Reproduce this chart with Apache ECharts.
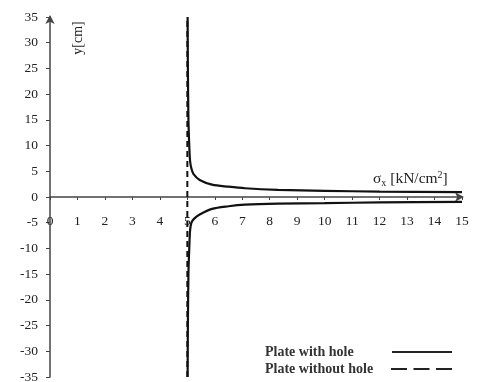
<!DOCTYPE html>
<html>
<head>
<meta charset="utf-8">
<script src="https://cdn.jsdelivr.net/npm/echarts@6/dist/echarts.min.js"></script>
<style>
  html, body { margin: 0; padding: 0; background: #fff; }
  #chart { width: 483px; height: 382px; }
</style>
</head>
<body>
<div id="chart"></div>
<script>
// Stress sigma_x along the y-section through the plate (kN/cm2 vs cm)
var sigmaHoleUpper = [5.01, 5.02, 5.04, 5.07, 5.1, 5.15, 5.22, 5.45, 5.9, 6.5, 7.1, 8.3, 10, 12, 15];
var yHoleUpper     = [35, 25, 15, 10, 7, 5.5, 4.5, 3.3, 2.4, 2.0, 1.7, 1.4, 1.2, 1.05, 0.95];
var sigmaHoleLower = [5.01, 5.02, 5.04, 5.07, 5.1, 5.15, 5.25, 5.45, 5.9, 6.5, 7.1, 8.3, 10, 12, 15];
var yHoleLower     = [-35, -25, -15, -10, -6.5, -5, -4.2, -3.4, -2.3, -1.8, -1.5, -1.3, -1.2, -1.05, -0.95];
var sigmaPlain = [5, 5];
var yPlain     = [-35, 35];

var xTicks = { min: 0, max: 15, step: 1 };
var yTicks = { min: -35, max: 35, step: 5 };

var legendNames = ['Plate with hole', 'Plate without hole'];

function pairs(xs, ys) {
  return xs.map(function (x, i) { return [x, ys[i]]; });
}

var SERIF = '"Liberation Serif", "DejaVu Serif", serif';
var INK = '#222';
var AXIS = '#444';

var GRID = { left: 50, right: 21, top: 17, bottom: 5 };
var CHART_H = 382;
// the sigma axis runs through y = 0, which sits halfway up the plot area
var zeroOffset = -(CHART_H - GRID.top - GRID.bottom) / 2;

var chart = echarts.init(document.getElementById('chart'), null, { renderer: 'canvas' });

chart.setOption({
  animation: false,
  backgroundColor: '#fff',
  grid: { left: GRID.left, right: GRID.right, top: GRID.top, bottom: GRID.bottom,
          containLabel: false, outerBoundsMode: 'none' },
  xAxis: {
    type: 'value',
    position: 'bottom',
    offset: zeroOffset,
    min: xTicks.min, max: xTicks.max, interval: xTicks.step,
    axisLine: {
      onZero: false,
      symbol: ['none', 'arrow'], symbolSize: [7, 9], symbolOffset: [0, 2],
      lineStyle: { color: AXIS, width: 1.5 }
    },
    axisTick: { show: true, inside: false, length: 3, lineStyle: { color: AXIS } },
    axisLabel: { color: INK, fontFamily: SERIF, fontSize: 13.5, margin: 17 },
    splitLine: { show: false }
  },
  yAxis: {
    type: 'value',
    min: yTicks.min, max: yTicks.max, interval: yTicks.step,
    axisLine: {
      show: true, onZero: false,
      symbol: ['none', 'arrow'], symbolSize: [7, 9], symbolOffset: [0, 2],
      lineStyle: { color: AXIS, width: 1.5 }
    },
    axisTick: { show: true, length: 4, lineStyle: { color: AXIS } },
    axisLabel: { color: INK, fontFamily: SERIF, fontSize: 13.5, margin: 12 },
    splitLine: { show: false }
  },
  series: [
    {
      name: legendNames[1], type: 'line', data: pairs(sigmaPlain, yPlain),
      showSymbol: false, lineStyle: { color: '#111', width: 2, type: [6, 4] }, z: 2
    },
    {
      name: legendNames[0], type: 'line', data: pairs(sigmaHoleUpper, yHoleUpper),
      showSymbol: false, smooth: 0.3, lineStyle: { color: '#111', width: 2.2 }, z: 3
    },
    {
      name: legendNames[0], type: 'line', data: pairs(sigmaHoleLower, yHoleLower),
      showSymbol: false, smooth: 0.3, lineStyle: { color: '#111', width: 2.2 }, z: 3
    }
  ],
  graphic: [
    {
      type: 'text', x: 78, y: 38, rotation: Math.PI / 2,
      style: { text: 'y[cm]', font: '14px ' + SERIF, fill: INK, align: 'center', verticalAlign: 'middle' }
    },
    {
      type: 'text', left: 373, top: 170,
      style: {
        text: '{s|σ}{sub|x}{s| [kN/cm}{sup|2}{s|]}',
        rich: {
          s: { fontFamily: SERIF, fontSize: 15.5, fill: INK, lineHeight: 18, verticalAlign: 'middle' },
          sub: { fontFamily: SERIF, fontSize: 10, fill: INK, lineHeight: 18, verticalAlign: 'bottom' },
          sup: { fontFamily: SERIF, fontSize: 10, fill: INK, lineHeight: 18, verticalAlign: 'top' }
        }
      }
    },
    {
      type: 'text', x: 265, y: 352,
      style: { text: legendNames[0], font: 'bold 14px ' + SERIF, fill: '#333', verticalAlign: 'middle' }
    },
    {
      type: 'text', x: 265, y: 369,
      style: { text: legendNames[1], font: 'bold 14px ' + SERIF, fill: '#333', verticalAlign: 'middle' }
    },
    {
      type: 'line', shape: { x1: 392, y1: 352, x2: 452, y2: 352 },
      style: { stroke: '#222', lineWidth: 2 }
    },
    {
      type: 'line', shape: { x1: 391, y1: 369, x2: 452, y2: 369 },
      style: { stroke: '#222', lineWidth: 2, lineDash: [16, 6.5] }
    }
  ]
});
</script>
</body>
</html>
